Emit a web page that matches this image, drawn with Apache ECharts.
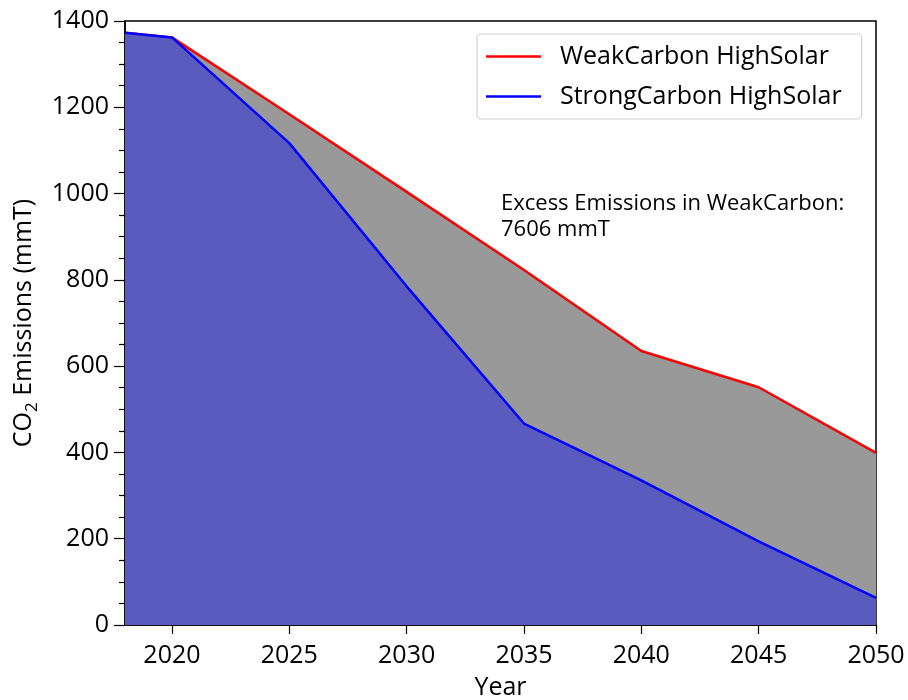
<!DOCTYPE html>
<html>
<head>
<meta charset="utf-8">
<script src="https://cdn.jsdelivr.net/npm/echarts@6/dist/echarts.min.js"></script>
<style>
  html, body { margin: 0; padding: 0; background: #fff; }
  #chart { width: 908px; height: 700px; }
</style>
</head>
<body>
<div id="chart"></div>
<script>
// Emission pathways (mmT CO2) by year
const years = [2018, 2020, 2025, 2030, 2035, 2040, 2045, 2050];
const weakCarbon = [1373, 1362, 1184, 1004, 823, 635, 551, 399];
const strongCarbon = [1373, 1362, 1117, 785, 467, 335, 194, 63];
const xTicks = [2020, 2025, 2030, 2035, 2040, 2045, 2050];
const seriesNames = ['WeakCarbon HighSolar', 'StrongCarbon HighSolar'];
const excessNote = ['Excess Emissions in WeakCarbon:', '7606 mmT'];

const FONT = '"Open Sans", "Noto Sans", sans-serif';
const FS = 25;
const pairs = vals => years.map((y, i) => [y, vals[i]]);

const chart = echarts.init(document.getElementById('chart'), null, { renderer: 'canvas' });
chart.setOption({
  animation: false,
  backgroundColor: '#fff',
  textStyle: { fontFamily: FONT },
  grid: {
    left: 125, right: 32, top: 21, bottom: 75,
    outerBoundsMode: 'none', containLabel: false,
    show: true, borderColor: '#000', borderWidth: 1.5, backgroundColor: 'transparent'
  },
  legend: {
    orient: 'vertical',
    left: 477, top: 34,
    padding: [10, 20, 10, 9],
    itemGap: 15,
    itemWidth: 55, itemHeight: 14,
    borderColor: '#d0d0d0', borderWidth: 1.2, borderRadius: 4,
    backgroundColor: '#fff',
    textStyle: { fontSize: FS, color: '#000', fontFamily: FONT, padding: [0, 0, 0, 14] },
    data: seriesNames.map(n => ({ name: n, icon: 'path://M0,0 L55,0 L55,2.4 L0,2.4 Z' }))
  },
  xAxis: {
    type: 'value', min: 2018, max: 2050,
    name: 'Year', nameLocation: 'middle', nameGap: 50,
    nameTextStyle: { fontSize: FS, color: '#000', fontFamily: FONT },
    axisLine: { show: true, lineStyle: { color: '#000', width: 1.5 } },
    axisTick: { show: true, length: 9, lineStyle: { color: '#000', width: 1.2 }, customValues: xTicks },
    axisLabel: { fontSize: FS, color: '#000', margin: 18, customValues: xTicks, fontFamily: FONT,
                 formatter: v => String(v) },
    splitLine: { show: false }
  },
  yAxis: {
    type: 'value', min: 0, max: 1400, interval: 200,
    name: '{a|CO}{s|2}{a| Emissions (mmT)}', nameLocation: 'middle', nameGap: 88,
    nameTextStyle: {
      color: '#000', fontFamily: FONT,
      rich: {
        a: { fontSize: FS, color: '#000', fontFamily: FONT, verticalAlign: 'bottom', lineHeight: 30 },
        s: { fontSize: 17, color: '#000', fontFamily: FONT, verticalAlign: 'bottom', lineHeight: 30, padding: [0, 0, -5, 0] }
      }
    },
    axisLine: { show: true, lineStyle: { color: '#000', width: 1.5 } },
    axisTick: { show: true, length: 11, lineStyle: { color: '#000', width: 1.2 } },
    minorTick: { show: true, splitNumber: 4, length: 6, lineStyle: { color: '#000', width: 1.2 } },
    axisLabel: { fontSize: FS, color: '#000', margin: 16, fontFamily: FONT,
                 formatter: v => String(v) },
    splitLine: { show: false }
  },
  graphic: [{
    type: 'text', left: 501, top: 191,
    style: {
      text: excessNote.join('\n'),
      font: '22px ' + FONT, fill: '#000', lineHeight: 26
    }
  }],
  series: [
    {
      name: seriesNames[0], type: 'line', data: pairs(weakCarbon),
      symbol: 'none', z: 2,
      lineStyle: { color: '#ff0000', width: 2.5 }, itemStyle: { color: '#ff0000' },
      areaStyle: { color: '#999999', opacity: 1 }
    },
    {
      name: seriesNames[1], type: 'line', data: pairs(strongCarbon),
      symbol: 'none', z: 3,
      lineStyle: { color: '#0000ff', width: 2.5 }, itemStyle: { color: '#0000ff' },
      areaStyle: { color: '#5b5bbf', opacity: 1 }
    }
  ]
});
</script>
</body>
</html>
